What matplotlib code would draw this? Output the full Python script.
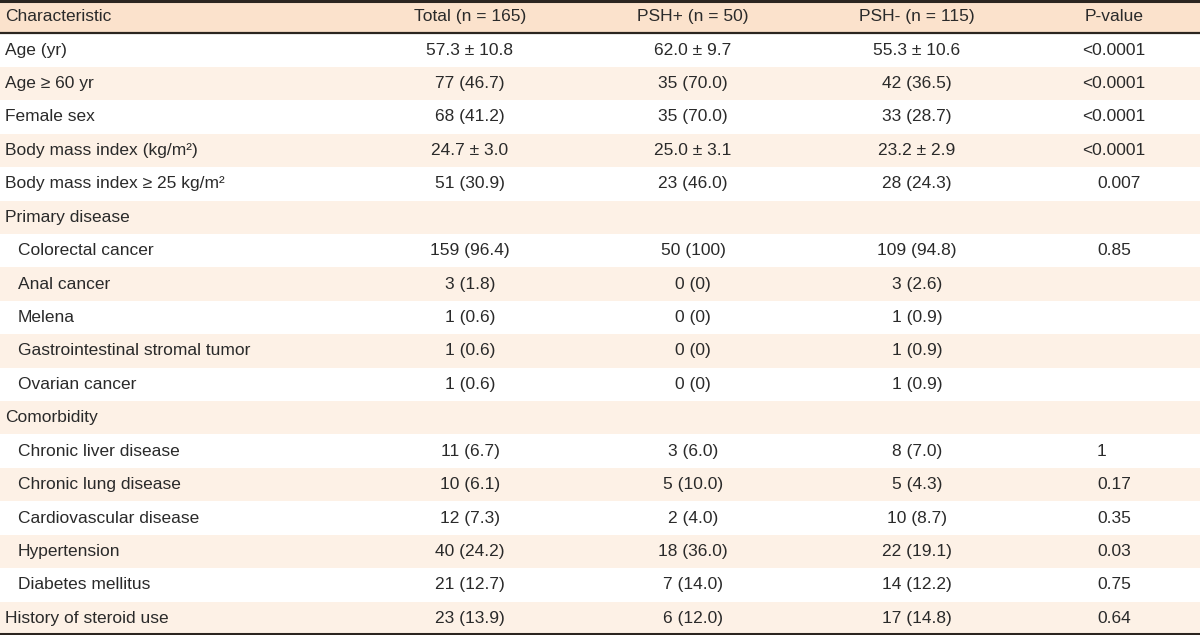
import matplotlib.pyplot as plt
from matplotlib import font_manager

# table contents
header = ["Characteristic", "Total (n = 165)", "PSH+ (n = 50)", "PSH- (n = 115)", "P-value"]
characteristic = ["Age (yr)", "Age \u2265 60 yr", "Female sex", "Body mass index (kg/m\u00b2)",
                  "Body mass index \u2265 25 kg/m\u00b2", "Primary disease", "Colorectal cancer",
                  "Anal cancer", "Melena", "Gastrointestinal stromal tumor", "Ovarian cancer",
                  "Comorbidity", "Chronic liver disease", "Chronic lung disease",
                  "Cardiovascular disease", "Hypertension", "Diabetes mellitus",
                  "History of steroid use"]
indented = [False, False, False, False, False, False, True, True, True, True, True,
            False, True, True, True, True, True, False]
total = ["57.3 \u00b1 10.8", "77 (46.7)", "68 (41.2)", "24.7 \u00b1 3.0", "51 (30.9)", "",
         "159 (96.4)", "3 (1.8)", "1 (0.6)", "1 (0.6)", "1 (0.6)", "",
         "11 (6.7)", "10 (6.1)", "12 (7.3)", "40 (24.2)", "21 (12.7)", "23 (13.9)"]
psh_pos = ["62.0 \u00b1 9.7", "35 (70.0)", "35 (70.0)", "25.0 \u00b1 3.1", "23 (46.0)", "",
           "50 (100)", "0 (0)", "0 (0)", "0 (0)", "0 (0)", "",
           "3 (6.0)", "5 (10.0)", "2 (4.0)", "18 (36.0)", "7 (14.0)", "6 (12.0)"]
psh_neg = ["55.3 \u00b1 10.6", "42 (36.5)", "33 (28.7)", "23.2 \u00b1 2.9", "28 (24.3)", "",
           "109 (94.8)", "3 (2.6)", "1 (0.9)", "1 (0.9)", "1 (0.9)", "",
           "8 (7.0)", "5 (4.3)", "10 (8.7)", "22 (19.1)", "14 (12.2)", "17 (14.8)"]
p_value = ["<0.0001", "<0.0001", "<0.0001", "<0.0001", "0.007", "", "0.85", "", "", "", "", "",
           "1", "0.17", "0.35", "0.03", "0.75", "0.64"]

# pick a narrow font if there is one
names = {f.name for f in font_manager.fontManager.ttflist}
fam = ["Liberation Sans Narrow", "Liberation Sans", "DejaVu Sans"]
fam = [f for f in fam if f in names] or ["DejaVu Sans"]
plt.rcParams['font.family'] = fam

W, H = 1200, 635
row_h = H / (len(characteristic) + 1)
col_x = [5, 470, 693, 917, 1114]
p_left = 1097   # short p-values sit flush left here, "<" ones hang out
indent = 13
txt_col = "#2a2a2a"
fs = 12.5

fig = plt.figure(figsize=(12, 6.35), dpi=100)
ax = fig.add_axes([0, 0, 1, 1])
ax.set_xlim(0, W)
ax.set_ylim(H, 0)
ax.axis("off")

# header band
ax.axhspan(0, row_h, color="#fbe2cc", lw=0)
ax.text(col_x[0], row_h / 2, header[0], ha="left", va="center", fontsize=fs, color=txt_col)
for x, h in zip(col_x[1:], header[1:]):
    ax.text(x, row_h / 2, h, ha="center", va="center", fontsize=fs, color=txt_col)

# body rows
for i, name in enumerate(characteristic):
    y0 = (i + 1) * row_h
    yc = y0 + row_h / 2
    if i % 2 == 1:
        ax.axhspan(y0, y0 + row_h, color="#fdf1e6", lw=0)
    ax.text(col_x[0] + (indent if indented[i] else 0), yc, name, ha="left", va="center",
            fontsize=fs, color=txt_col)
    for x, val in zip(col_x[1:4], [total[i], psh_pos[i], psh_neg[i]]):
        ax.text(x, yc, val, ha="center", va="center", fontsize=fs, color=txt_col)
    pv = p_value[i]
    if pv.startswith("<"):
        ax.text(col_x[4], yc, pv, ha="center", va="center", fontsize=fs, color=txt_col)
    elif pv:
        ax.text(p_left, yc, pv, ha="left", va="center", fontsize=fs, color=txt_col)

# rules
ax.axhline(1.2, color="#2b2520", lw=2.2)
ax.axhline(row_h, color="#2b2520", lw=1.6)
ax.axhline(H - 1.2, color="#2b2520", lw=2.2)

fig.savefig("out.png", dpi=100)
